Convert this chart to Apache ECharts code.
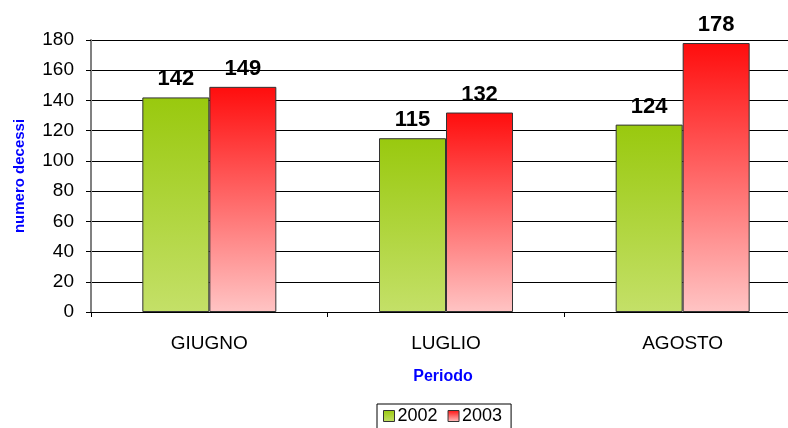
<!DOCTYPE html>
<html>
<head>
<meta charset="utf-8">
<script src="https://cdn.jsdelivr.net/npm/echarts@6/dist/echarts.min.js"></script>
<style>
  html, body { margin: 0; padding: 0; background: #fff; }
  #chart { width: 788px; height: 428px; }
</style>
</head>
<body>
<div id="chart"></div>
<script>
// dati
let periodi = ['GIUGNO', 'LUGLIO', 'AGOSTO']
let anni = ['2002', '2003']
let decessi2002 = [142, 115, 124]
let decessi2003 = [149, 132, 178]
let yTicks = [0, 20, 40, 60, 80, 100, 120, 140, 160, 180]

let chart = echarts.init(document.getElementById('chart'))

function grad(top, bottom) {
  return new echarts.graphic.LinearGradient(0, 0, 0, 1, [
    { offset: 0, color: top },
    { offset: 1, color: bottom }
  ])
}

let labelStyle = {
  show: true,
  position: 'top',
  distance: 7,
  color: '#000',
  fontFamily: 'Arial, Liberation Sans',
  fontWeight: 'bold',
  fontSize: 22
}

chart.setOption({
  animation: false,
  textStyle: { fontFamily: 'Arial, Liberation Sans' },
  grid: {
    left: 91,
    top: 40,
    width: 710,
    height: 272,
    outerBoundsMode: 'none'
  },
  legend: {
    data: anni,
    left: 377,
    top: 404,
    icon: 'rect',
    itemWidth: 11,
    itemHeight: 11,
    itemGap: 10,
    padding: [3, 9, 8, 6],
    borderColor: '#000',
    borderWidth: 1,
    itemStyle: { borderColor: '#333', borderWidth: 1 },
    textStyle: { fontSize: 18, color: '#000', padding: [0, 0, 0, -2] }
  },
  xAxis: {
    type: 'category',
    data: periodi,
    name: 'Periodo',
    nameLocation: 'middle',
    nameGap: 57,
    nameTextStyle: { color: '#0000ff', fontWeight: 'bold', fontSize: 16, padding: [0, 0, 0, -6] },
    axisLine: { lineStyle: { color: '#000', width: 1 } },
    axisTick: { show: true, length: 5, lineStyle: { color: '#000' } },
    axisLabel: { color: '#000', fontSize: 19, margin: 22 }
  },
  yAxis: {
    type: 'value',
    min: yTicks[0],
    max: yTicks[yTicks.length - 1],
    interval: 20,
    name: 'numero decessi',
    nameLocation: 'middle',
    nameGap: 64,
    nameTextStyle: { color: '#0000ff', fontWeight: 'bold', fontSize: 15 },
    axisLine: { show: true, lineStyle: { color: '#808080', width: 2 } },
    axisTick: { show: true, length: 5, lineStyle: { color: '#000' } },
    axisLabel: { color: '#000', fontSize: 19, margin: 17 },
    splitLine: { lineStyle: { color: '#000', width: 1 } }
  },
  series: [{
    name: anni[0],
    type: 'bar',
    data: decessi2002,
    barWidth: 67,
    barGap: '0%',
    itemStyle: { color: grad('#99c90e', '#c4e068'), borderColor: '#333', borderWidth: 1 },
    label: labelStyle
  }, {
    name: anni[1],
    type: 'bar',
    data: decessi2003,
    barWidth: 67,
    barGap: '0%',
    itemStyle: { color: grad('#ff0d0d', '#ffc4c4'), borderColor: '#333', borderWidth: 1 },
    label: labelStyle
  }]
})
</script>
</body>
</html>
